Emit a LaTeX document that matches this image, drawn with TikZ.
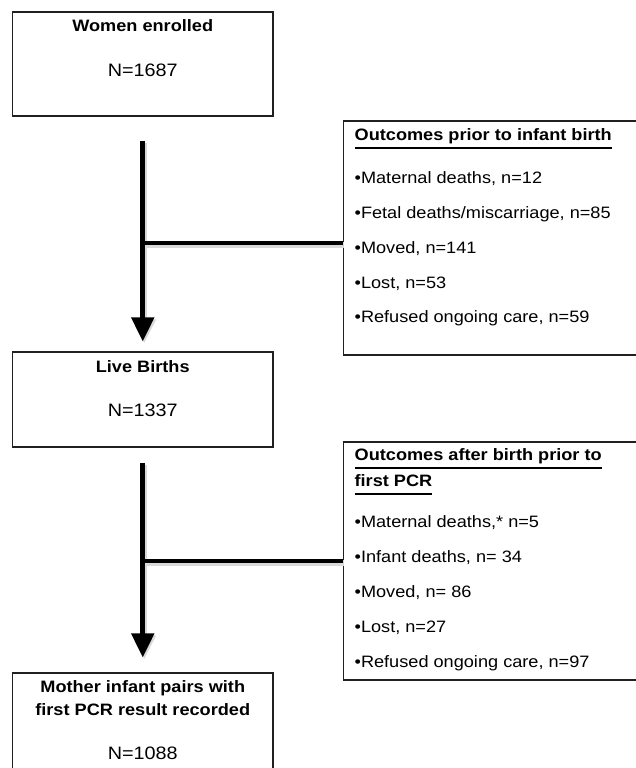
\documentclass[tikz,border=0pt]{standalone}
\usepackage{fontspec}
\setmainfont{Liberation Sans}[FakeStretch=1.1]
\usetikzlibrary{positioning,arrows.meta}

\definecolor{boxline}{HTML}{231F20}
\newcommand{\uhead}[1]{\setbox0\hbox{\bfseries #1}\rlap{\rule[-8pt]{\wd0}{1.8pt}}\box0}

\tikzstyle{flowbox} = [rectangle, draw=boxline, line width=1.1pt, inner sep=0pt, minimum width=260.5pt]
\tikzstyle{sidebox} = [rectangle, draw=boxline, line width=1.1pt, inner sep=0pt, minimum width=296.5pt]
\tikzstyle{boxtext} = [inner sep=0pt, align=center, anchor=north]
\tikzstyle{listtext} = [inner sep=0pt, align=left, anchor=north west]
\tikzstyle{arrow} = [line width=5pt, -{Triangle[width=22pt,length=24pt]},
  preaction={draw=black!15, line width=6pt, transform canvas={shift={(1.5pt,-2pt)}}}]
\tikzstyle{branch} = [line width=4.5pt,
  preaction={draw=black!15, line width=5.5pt, shorten <=3pt, transform canvas={shift={(1.5pt,-2pt)}}}]

\begin{document}
\begin{tikzpicture}[x=1pt,y=-1pt]
  \useasboundingbox (0,0) rectangle (635,768);

  % main column
  \node (enrolled) [flowbox, minimum height=104pt] at (142.75,64) {};
  \node (live) [flowbox, minimum height=95pt] at (142.75,399.5) {};
  \node (pairs) [flowbox, minimum height=102pt] at (142.75,724) {};

  % side boxes
  \node (prior) [sidebox, minimum height=234pt] at (491.75,238) {};
  \node (after) [sidebox, minimum height=238pt] at (491.75,561) {};

  \node (enrolled text) [boxtext, font={\fontsize{16.5}{45}\selectfont}, below=7pt of enrolled.north]
    {\rule{0pt}{13pt}\textbf{Women enrolled}\\{\fontsize{18}{45}\selectfont N=1687}};
  \node (live text) [boxtext, font={\fontsize{16.5}{44}\selectfont}, below=8pt of live.north]
    {\rule{0pt}{13pt}\textbf{Live Births}\\{\fontsize{18}{44}\selectfont N=1337}};
  \node (pairs text) [boxtext, font={\fontsize{16.5}{23}\selectfont}, below=7pt of pairs.north]
    {\rule{0pt}{13pt}\textbf{Mother infant pairs with}\\\textbf{first PCR result recorded}\\[21pt]{\fontsize{18}{23}\selectfont N=1088}};

  \node (prior text) [listtext, font={\fontsize{16.5}{34.8}\selectfont}, below right=7pt and 11.5pt of prior.north west]
    {\rule{0pt}{13pt}\uhead{Outcomes prior to infant birth}\\[8.2pt]
     •Maternal deaths, n=12\\
     •Fetal deaths/miscarriage, n=85\\
     •Moved, n=141\\
     •Lost, n=53\\
     •Refused ongoing care, n=59};
  \node (after text) [listtext, font={\fontsize{16.5}{35}\selectfont}, below right=6pt and 11.5pt of after.north west]
    {\rule{0pt}{13pt}\uhead{Outcomes after birth prior to}\\[-9pt]
     \uhead{first PCR}\\[6pt]
     •Maternal deaths,* n=5\\
     •Infant deaths, n= 34\\
     •Moved, n= 86\\
     •Lost, n=27\\
     •Refused ongoing care, n=97};

  % connectors
  \draw [arrow, shorten <=24pt, shorten >=10pt] (enrolled.south) -- (live.north);
  \draw [arrow, shorten <=15pt, shorten >=15pt] (live.south) -- (pairs.north);
  \coordinate (split prior) at (142.75,243);
  \draw [branch] (split prior) -- (split prior -| prior.west);
  \draw [branch] (live.south |- after.west) -- (after.west);
\end{tikzpicture}
\end{document}
